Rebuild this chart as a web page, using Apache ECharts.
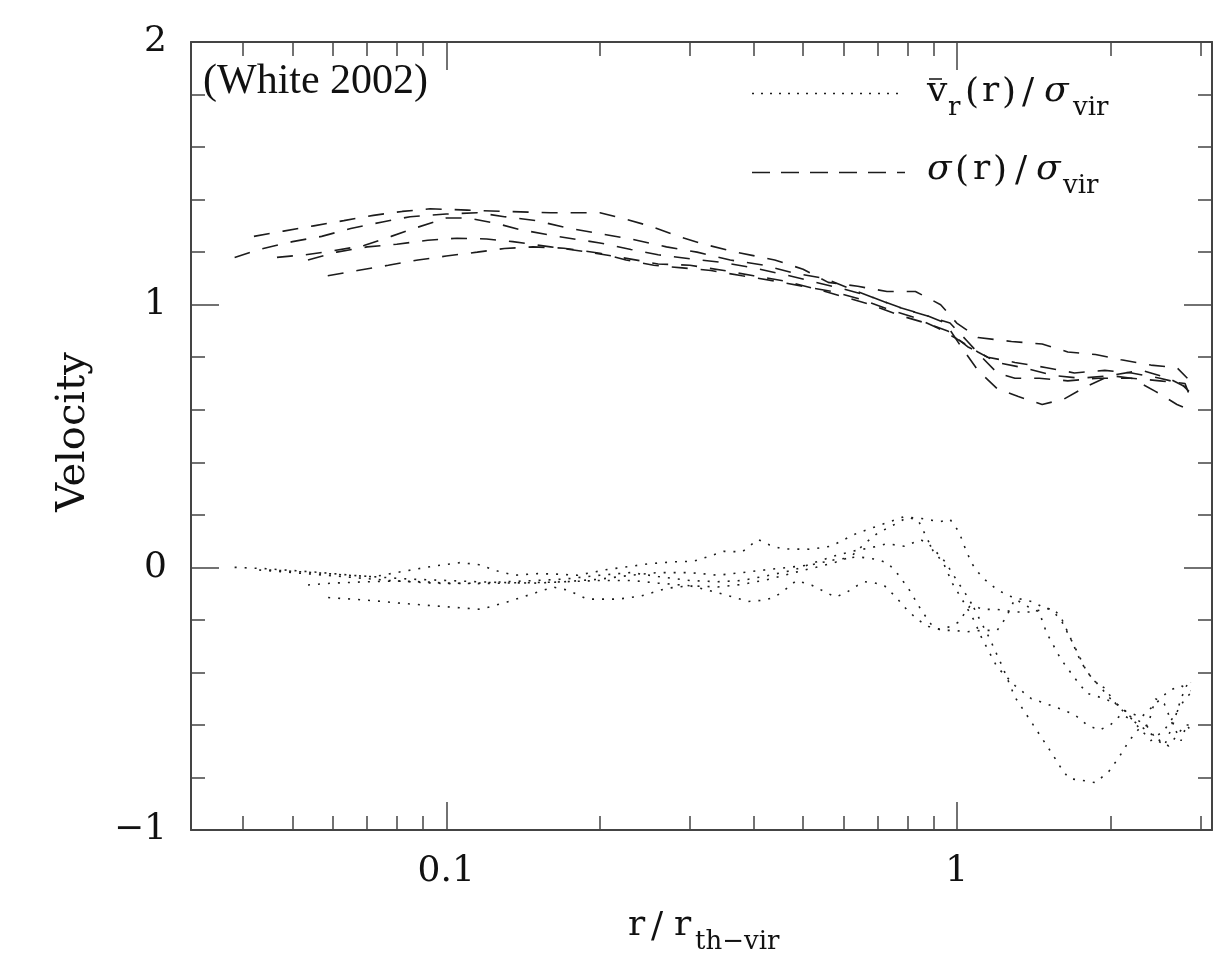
<!DOCTYPE html>
<html>
<head>
<meta charset="utf-8">
<script src="https://cdn.jsdelivr.net/npm/echarts@6/dist/echarts.min.js"></script>
<style>
  html, body { margin: 0; padding: 0; background: #ffffff; }
  #chart { width: 1218px; height: 979px; }
</style>
</head>
<body>
<div id="chart"></div>
<script>
// Velocity dispersion profiles sigma(r)/sigma_vir, one per halo: [r / r_th-vir, value]
const sigmaA = [[0.042,1.26],[0.048,1.28],[0.055,1.30],[0.063,1.32],[0.072,1.34],[0.082,1.355],[0.093,1.365],[0.11,1.36],[0.13,1.355],[0.16,1.35],[0.2,1.35],[0.22,1.33],[0.25,1.30],[0.29,1.255],[0.32,1.23],[0.37,1.20],[0.44,1.17],[0.5,1.135],[0.56,1.085],[0.64,1.07],[0.73,1.05],[0.83,1.05],[0.93,1.0],[1.0,0.93],[1.1,0.875],[1.28,0.86],[1.47,0.85],[1.65,0.82],[1.87,0.81],[2.1,0.79],[2.4,0.77],[2.7,0.76],[2.83,0.72]];
const sigmaB = [[0.0385,1.18],[0.043,1.21],[0.05,1.24],[0.057,1.26],[0.065,1.29],[0.075,1.315],[0.085,1.335],[0.1,1.345],[0.115,1.35],[0.13,1.335],[0.15,1.32],[0.17,1.295],[0.2,1.27],[0.23,1.25],[0.27,1.22],[0.31,1.20],[0.36,1.17],[0.42,1.15],[0.48,1.12],[0.55,1.10],[0.62,1.06],[0.7,1.02],[0.8,0.98],[0.9,0.95],[0.97,0.93],[1.05,0.86],[1.12,0.80],[1.2,0.74],[1.3,0.72],[1.45,0.72],[1.65,0.71],[1.9,0.72],[2.2,0.72],[2.5,0.71],[2.8,0.70],[2.85,0.66]];
const sigmaC = [[0.0466,1.18],[0.053,1.19],[0.06,1.205],[0.069,1.225],[0.078,1.26],[0.088,1.295],[0.1,1.33],[0.11,1.33],[0.125,1.31],[0.14,1.285],[0.165,1.26],[0.2,1.235],[0.23,1.21],[0.26,1.19],[0.3,1.175],[0.35,1.16],[0.4,1.14],[0.47,1.11],[0.53,1.085],[0.6,1.06],[0.68,1.03],[0.77,0.99],[0.87,0.96],[0.95,0.93],[1.02,0.84],[1.1,0.75],[1.2,0.68],[1.32,0.65],[1.47,0.62],[1.62,0.64],[1.8,0.69],[2.0,0.73],[2.2,0.72],[2.45,0.67],[2.7,0.62],[2.85,0.60]];
const sigmaD = [[0.0536,1.17],[0.061,1.20],[0.07,1.22],[0.08,1.23],[0.092,1.245],[0.105,1.253],[0.12,1.25],[0.135,1.24],[0.16,1.22],[0.19,1.20],[0.22,1.18],[0.26,1.155],[0.3,1.15],[0.35,1.13],[0.4,1.11],[0.46,1.09],[0.53,1.06],[0.6,1.03],[0.68,1.0],[0.77,0.96],[0.87,0.93],[0.96,0.90],[1.05,0.84],[1.15,0.80],[1.3,0.78],[1.5,0.76],[1.7,0.74],[1.95,0.75],[2.2,0.74],[2.5,0.72],[2.75,0.70],[2.85,0.67]];
const sigmaE = [[0.0586,1.11],[0.067,1.13],[0.077,1.15],[0.088,1.17],[0.1,1.185],[0.115,1.20],[0.13,1.214],[0.148,1.22],[0.17,1.215],[0.2,1.196],[0.225,1.17],[0.255,1.15],[0.29,1.14],[0.33,1.13],[0.38,1.11],[0.44,1.09],[0.5,1.07],[0.57,1.05],[0.65,1.02],[0.74,0.98],[0.83,0.95],[0.92,0.91],[1.0,0.87],[1.1,0.82],[1.2,0.78],[1.35,0.76],[1.55,0.73],[1.75,0.72],[2.0,0.73],[2.3,0.75],[2.6,0.72],[2.85,0.68]];

// Mean radial velocity profiles vr(r)/sigma_vir, one per halo: [r / r_th-vir, value]
const meanVrA = [[0.0385,0.0],[0.044,-0.005],[0.05,-0.012],[0.057,-0.02],[0.065,-0.03],[0.075,-0.038],[0.085,-0.045],[0.1,-0.05],[0.115,-0.055],[0.13,-0.058],[0.15,-0.06],[0.17,-0.055],[0.2,-0.045],[0.23,-0.03],[0.26,-0.02],[0.3,-0.02],[0.34,-0.03],[0.38,-0.02],[0.42,-0.01],[0.47,0.0],[0.52,0.01],[0.58,0.03],[0.64,0.04],[0.7,0.03],[0.734,0.015],[0.77,-0.03],[0.81,-0.09],[0.85,-0.16],[0.893,-0.22],[0.93,-0.24],[0.98,-0.24],[1.05,-0.245],[1.12,-0.24],[1.2,-0.24],[1.25,-0.19],[1.3,-0.12],[1.38,-0.15],[1.45,-0.17],[1.5,-0.25],[1.6,-0.35],[1.7,-0.42],[1.8,-0.48],[1.95,-0.5],[2.1,-0.53],[2.25,-0.6],[2.4,-0.66],[2.55,-0.62],[2.7,-0.55],[2.8,-0.5],[2.87,-0.48]];
const meanVrB = [[0.045,-0.01],[0.05,-0.015],[0.057,-0.022],[0.064,-0.03],[0.072,-0.036],[0.0825,-0.015],[0.094,0.004],[0.1065,0.018],[0.116,0.01],[0.126,-0.014],[0.136,-0.03],[0.151,-0.024],[0.165,-0.026],[0.181,-0.03],[0.207,-0.008],[0.23,0.004],[0.25,0.014],[0.28,0.021],[0.305,0.023],[0.325,0.04],[0.35,0.061],[0.38,0.059],[0.408,0.106],[0.43,0.085],[0.456,0.07],[0.52,0.069],[0.568,0.081],[0.636,0.129],[0.723,0.167],[0.786,0.192],[0.854,0.186],[0.927,0.174],[0.97,0.183],[1.01,0.135],[1.04,0.07],[1.07,0.015],[1.1,-0.018],[1.14,-0.05],[1.2,-0.085],[1.27,-0.11],[1.33,-0.12],[1.4,-0.13],[1.47,-0.15],[1.53,-0.16],[1.6,-0.2],[1.7,-0.3],[1.8,-0.4],[1.9,-0.45],[2.0,-0.5],[2.15,-0.55],[2.3,-0.57],[2.45,-0.52],[2.6,-0.47],[2.75,-0.45],[2.87,-0.47]];
const meanVrC = [[0.0536,-0.067],[0.06,-0.06],[0.07,-0.055],[0.08,-0.052],[0.09,-0.055],[0.1,-0.06],[0.115,-0.062],[0.13,-0.06],[0.15,-0.058],[0.17,-0.055],[0.2,-0.05],[0.23,-0.05],[0.26,-0.06],[0.3,-0.07],[0.34,-0.075],[0.38,-0.065],[0.43,-0.045],[0.48,-0.02],[0.53,0.0],[0.58,0.02],[0.62,0.04],[0.66,0.09],[0.7,0.13],[0.75,0.16],[0.8,0.19],[0.84,0.18],[0.87,0.12],[0.9,0.06],[0.94,0.02],[0.98,-0.06],[1.03,-0.13],[1.08,-0.2],[1.12,-0.27],[1.2,-0.38],[1.3,-0.45],[1.4,-0.5],[1.5,-0.52],[1.6,-0.54],[1.7,-0.56],[1.8,-0.6],[1.9,-0.62],[2.0,-0.6],[2.1,-0.56],[2.2,-0.58],[2.35,-0.62],[2.5,-0.66],[2.6,-0.68],[2.7,-0.64],[2.8,-0.6],[2.87,-0.6]];
const meanVrD = [[0.0587,-0.115],[0.07,-0.125],[0.083,-0.138],[0.1,-0.15],[0.1167,-0.16],[0.1316,-0.132],[0.1496,-0.097],[0.162,-0.075],[0.173,-0.087],[0.189,-0.121],[0.217,-0.121],[0.24,-0.11],[0.27,-0.08],[0.3,-0.07],[0.33,-0.09],[0.36,-0.11],[0.39,-0.13],[0.42,-0.125],[0.44,-0.113],[0.46,-0.087],[0.485,-0.05],[0.52,-0.068],[0.56,-0.1],[0.58,-0.113],[0.61,-0.094],[0.64,-0.068],[0.66,-0.055],[0.69,-0.059],[0.72,-0.068],[0.76,-0.113],[0.8,-0.163],[0.84,-0.2],[0.88,-0.225],[0.93,-0.236],[0.97,-0.226],[1.01,-0.208],[1.04,-0.17],[1.07,-0.138],[1.11,-0.2],[1.156,-0.265],[1.23,-0.38],[1.3,-0.494],[1.4,-0.589],[1.47,-0.652],[1.537,-0.709],[1.61,-0.772],[1.66,-0.804],[1.8,-0.814],[1.87,-0.82],[1.99,-0.775],[2.08,-0.722],[2.18,-0.658],[2.29,-0.608],[2.37,-0.6],[2.45,-0.5],[2.55,-0.52],[2.65,-0.6],[2.75,-0.66],[2.82,-0.6],[2.87,-0.62]];
const meanVrE = [[0.043,-0.01],[0.05,-0.02],[0.058,-0.03],[0.067,-0.04],[0.077,-0.05],[0.09,-0.058],[0.1,-0.062],[0.115,-0.06],[0.13,-0.055],[0.15,-0.05],[0.17,-0.045],[0.2,-0.03],[0.23,-0.02],[0.26,-0.035],[0.3,-0.05],[0.34,-0.055],[0.38,-0.05],[0.43,-0.03],[0.48,-0.01],[0.53,0.02],[0.58,0.045],[0.62,0.06],[0.68,0.075],[0.73,0.09],[0.79,0.08],[0.85,0.105],[0.88,0.09],[0.91,0.06],[0.95,0.02],[1.0,-0.05],[1.04,-0.1],[1.07,-0.14],[1.12,-0.16],[1.2,-0.16],[1.3,-0.17],[1.4,-0.17],[1.5,-0.157],[1.55,-0.16],[1.6,-0.19],[1.68,-0.28],[1.75,-0.36],[1.85,-0.43],[1.95,-0.46],[2.05,-0.52],[2.15,-0.56],[2.25,-0.58],[2.35,-0.6],[2.45,-0.65],[2.55,-0.68],[2.65,-0.6],[2.75,-0.5],[2.85,-0.43],[2.87,-0.44]];

const sigmaCurves = [sigmaA, sigmaB, sigmaC, sigmaD, sigmaE];
const meanVrCurves = [meanVrA, meanVrB, meanVrC, meanVrD, meanVrE];

// Axis ticks
const xRange = [0.0316227766, 3.16227766];
const xMajorTicks = [0.1, 1];
const xMinorTicks = [0.04, 0.05, 0.06, 0.07, 0.08, 0.09, 0.2, 0.3, 0.4, 0.5, 0.6, 0.7, 0.8, 0.9, 2, 3];
const yRange = [-1, 2];

const SERIF = 'DejaVu Serif';
const INK = '#111111';
const AXIS = '#444444';
const LINE = '#1c1c1c';

const chart = echarts.init(document.getElementById('chart'), null, { renderer: 'canvas' });

function xAxisLayer(position, ticks, tickLen, showLine, showLabels) {
  return {
    type: 'log', logBase: 10, min: xRange[0], max: xRange[1], position: position,
    gridIndex: 0,
    axisLine: { show: showLine, onZero: false, lineStyle: { color: AXIS, width: 2 } },
    axisTick: { show: true, inside: true, length: tickLen, customValues: ticks,
                lineStyle: { color: AXIS, width: 1.5 } },
    axisLabel: { show: showLabels, customValues: ticks, margin: 24,
                 fontFamily: SERIF, fontSize: 36, color: INK,
                 formatter: v => String(+Number(v).toPrecision(3)) },
    minorTick: { show: false }, splitLine: { show: false }, minorSplitLine: { show: false }
  };
}

function yAxisLayer(position, showLabels) {
  return {
    type: 'value', min: yRange[0], max: yRange[1], interval: 1, position: position,
    gridIndex: 0,
    axisLine: { show: true, onZero: false, lineStyle: { color: AXIS, width: 2 } },
    axisTick: { show: true, inside: true, length: 28, lineStyle: { color: AXIS, width: 1.5 } },
    minorTick: { show: true, splitNumber: 5, length: 14, lineStyle: { color: AXIS, width: 1.5 } },
    axisLabel: { show: showLabels, margin: 24, fontFamily: SERIF, fontSize: 36, color: INK,
                 formatter: v => (v < 0 ? '\u2212' + Math.abs(v) : String(v)) },
    splitLine: { show: false }, minorSplitLine: { show: false }
  };
}

const series = [];
sigmaCurves.forEach(curve => series.push({
  type: 'line', name: 'sigma', data: curve, xAxisIndex: 0, yAxisIndex: 0,
  showSymbol: false, symbol: 'none', silent: true, animation: false, clip: true,
  lineStyle: { color: LINE, width: 1.6, type: [16, 13] }
}));
meanVrCurves.forEach(curve => series.push({
  type: 'line', name: 'meanVr', data: curve, xAxisIndex: 0, yAxisIndex: 0,
  showSymbol: false, symbol: 'none', silent: true, animation: false, clip: true,
  lineStyle: { color: LINE, width: 1.6, type: [2, 8] }
}));

// Text helpers for the label pieces
function piece(str, x, y, size, extra) {
  return {
    type: 'text', x: x, y: y, silent: true, z: 10,
    style: Object.assign({ text: str, fontFamily: SERIF, fontSize: size, fill: INK,
                           align: 'left', verticalAlign: 'middle' }, extra || {})
  };
}
const ital = { fontStyle: 'italic' };

const graphics = [
  // citation tag
  piece('(White 2002)', 203, 82, 42, { fontFamily: 'Liberation Serif' }),

  // legend samples
  { type: 'line', silent: true, shape: { x1: 752, y1: 93.5, x2: 905, y2: 93.5 },
    style: { stroke: LINE, lineWidth: 1.6, lineDash: [2, 7] } },
  { type: 'line', silent: true, shape: { x1: 752, y1: 172.5, x2: 905, y2: 172.5 },
    style: { stroke: LINE, lineWidth: 1.6, lineDash: [18, 11] } },

  // legend label: mean radial velocity
  piece('v', 927, 92, 36),
  { type: 'line', silent: true, shape: { x1: 929, y1: 79, x2: 942, y2: 79 },
    style: { stroke: INK, lineWidth: 1.5 } },
  piece('r', 948, 108, 26),
  piece('(', 965, 94, 36), piece('r', 982, 92, 36), piece(')', 1002, 94, 36),
  piece('/', 1022, 94, 36), piece('\u03c3', 1044, 92, 36, ital),
  piece('vir', 1073, 108, 26),

  // legend label: velocity dispersion
  piece('\u03c3', 927, 170, 36, ital),
  piece('(', 955, 172, 36), piece('r', 973, 170, 36), piece(')', 993, 172, 36),
  piece('/', 1015, 172, 36), piece('\u03c3', 1036, 170, 36, ital),
  piece('vir', 1063, 186, 26),

  // x axis title r / r_th-vir
  piece('r', 628, 926, 36), piece('/', 651, 928, 36), piece('r', 674, 926, 36),
  piece('th\u2212vir', 695, 942, 26),

  // y axis title
  { type: 'text', x: 74, y: 432, rotation: Math.PI / 2, silent: true,
    style: { text: 'Velocity', fontFamily: SERIF, fontSize: 40, fill: INK,
             align: 'center', verticalAlign: 'middle' } }
];

chart.setOption({
  animation: false,
  backgroundColor: '#ffffff',
  grid: { left: 191, top: 42, width: 1021, height: 788, containLabel: false },
  xAxis: [
    xAxisLayer('bottom', xMajorTicks, 28, true, true),
    xAxisLayer('bottom', xMinorTicks, 14, false, false),
    xAxisLayer('top', xMajorTicks, 28, true, false),
    xAxisLayer('top', xMinorTicks, 14, false, false)
  ],
  yAxis: [
    yAxisLayer('left', true),
    yAxisLayer('right', false)
  ],
  series: series,
  graphic: graphics
});
</script>
</body>
</html>
